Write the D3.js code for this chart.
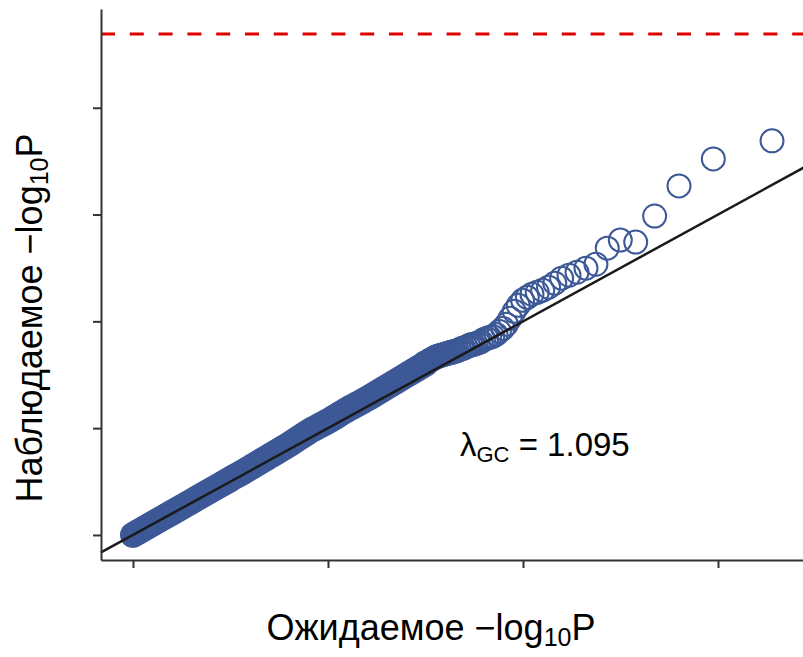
<!DOCTYPE html>
<html>
<head>
<meta charset="utf-8">
<script src="https://cdn.jsdelivr.net/npm/d3@7"></script>
<style>
  body { margin: 0; background: #fff; }
  svg { display: block; font-family: "Liberation Sans", Arial, Helvetica, sans-serif; }
</style>
</head>
<body>
<svg width="803" height="657"></svg>
<script>
// dense part of the QQ band: centre
var bulkExpected = [0, 0.1, 0.2, 0.3, 0.4, 0.5, 0.6, 0.7, 0.8, 0.9, 1.0, 1.1, 1.2, 1.3, 1.4, 1.5];
var bulkObserved = [0, 0.105, 0.209, 0.314, 0.419, 0.523, 0.628, 0.738, 0.847, 0.966, 1.066, 1.175, 1.275, 1.385, 1.494, 1.603];

// separate circles in the upper tail
var tailExpected = [3.277, 2.976, 2.800, 2.675, 2.578, 2.499, 2.432, 2.374, 2.323, 2.277,
    2.236, 2.198, 2.163, 2.131, 2.101, 2.073, 2.046, 2.022, 1.998, 1.976,
    1.955, 1.934, 1.915, 1.897, 1.879, 1.862, 1.845, 1.829, 1.814, 1.799,
    1.785, 1.771, 1.758, 1.745, 1.732, 1.720, 1.708, 1.696, 1.685, 1.674,
    1.663, 1.652, 1.642, 1.632, 1.622, 1.612, 1.603, 1.594, 1.585, 1.576,
    1.567, 1.559, 1.551, 1.543, 1.535, 1.527, 1.519, 1.512, 1.505, 1.497];
var tailObserved = [3.690, 3.521, 3.268, 2.986, 2.742, 2.761, 2.685, 2.535, 2.498, 2.460,
    2.432, 2.404, 2.357, 2.319, 2.291, 2.272, 2.254, 2.225, 2.197, 2.150,
    2.094, 2.028, 1.972, 1.934, 1.906, 1.878, 1.859, 1.850, 1.840, 1.831,
    1.810, 1.800, 1.790, 1.785, 1.780, 1.770, 1.760, 1.750, 1.745, 1.735,
    1.725, 1.720, 1.715, 1.710, 1.705, 1.700, 1.695, 1.690, 1.685, 1.680,
    1.675, 1.670, 1.665, 1.655, 1.645, 1.640, 1.630, 1.620, 1.615, 1.610];

var xTicks = [0, 1, 2, 3];
var yTicks = [0, 1, 2, 3, 4];
var threshold = 4.69;
var lambdaGC = "1.095";

var svg = d3.select("svg");
var blue = "#3c5896";

var x = d3.scaleLinear().domain([-0.164, 3.441]).range([101, 804]);
var y = d3.scaleLinear().domain([-0.2345, 4.9245]).range([560, 9]);

// dense band
var bulk = bulkExpected.map(function(e, i) { return [e, bulkObserved[i]]; });
svg.append("path")
    .datum(bulk)
    .attr("d", d3.line().x(function(d) { return x(d[0]); }).y(function(d) { return y(d[1]); }).curve(d3.curveMonotoneX))
    .attr("fill", "none")
    .attr("stroke", blue)
    .attr("stroke-width", 26)
    .attr("stroke-linecap", "round")
    .attr("stroke-linejoin", "round");

// tail circles
var tail = tailExpected.map(function(e, i) { return [e, tailObserved[i]]; });
svg.append("g").selectAll("circle")
    .data(tail)
    .enter().append("circle")
    .attr("cx", function(d) { return x(d[0]); })
    .attr("cy", function(d) { return y(d[1]); })
    .attr("r", 11.5)
    .attr("fill", "none")
    .attr("stroke", blue)
    .attr("stroke-width", 2);

// y = x reference line
var xd = x.domain();
svg.append("line")
    .attr("x1", x(xd[0])).attr("y1", y(xd[0]))
    .attr("x2", x(xd[1])).attr("y2", y(xd[1]))
    .attr("stroke", "#1a1a1a")
    .attr("stroke-width", 2.5);

// significance threshold
svg.append("line")
    .attr("x1", x(xd[0])).attr("x2", x(xd[1]))
    .attr("y1", y(threshold)).attr("y2", y(threshold))
    .attr("stroke", "#e00000")
    .attr("stroke-width", 3)
    .attr("stroke-dasharray", "14,14.8");

// axes
svg.append("g")
    .attr("transform", "translate(0,560)")
    .call(d3.axisBottom(x).tickValues(xTicks).tickFormat("").tickSize(8).tickSizeOuter(0));
svg.append("g")
    .attr("transform", "translate(101,0)")
    .call(d3.axisLeft(y).tickValues(yTicks).tickFormat("").tickSize(8).tickSizeOuter(0));
svg.selectAll(".domain, .tick line").attr("stroke", "#333").attr("stroke-width", 2);

// axis titles
var xt = svg.append("text")
    .attr("x", 431).attr("y", 640)
    .attr("text-anchor", "middle")
    .attr("font-size", 36)
    .attr("fill", "#000");
xt.append("tspan").text("Ожидаемое \u2212log");
xt.append("tspan").attr("font-size", 25).attr("dy", 6).text("10");
xt.append("tspan").attr("dy", -6).text("P");

var yt = svg.append("text")
    .attr("transform", "translate(42,318) rotate(-90)")
    .attr("text-anchor", "middle")
    .attr("font-size", 36)
    .attr("fill", "#000");
yt.append("tspan").text("Наблюдаемое \u2212log");
yt.append("tspan").attr("font-size", 25).attr("dy", 6).text("10");
yt.append("tspan").attr("dy", -6).text("P");

// lambda annotation
var lt = svg.append("text")
    .attr("x", 460).attr("y", 456)
    .attr("font-size", 33)
    .attr("fill", "#000");
lt.append("tspan").text("\u03bb");
lt.append("tspan").attr("font-size", 22).attr("dy", 6).text("GC");
lt.append("tspan").attr("dy", -6).text(" = " + lambdaGC);
</script>
</body>
</html>
